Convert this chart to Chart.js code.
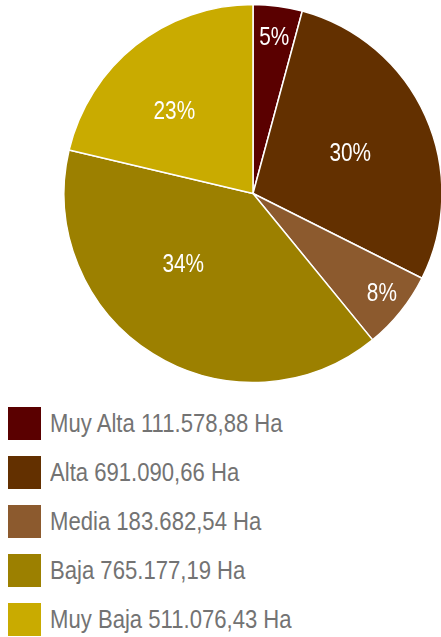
<!DOCTYPE html>
<html><head><meta charset="utf-8">
<script src="https://cdn.jsdelivr.net/npm/chart.js@4"></script>
<style>
html,body{margin:0;padding:0;background:#fff;overflow:hidden;width:441px;height:637px;position:relative;}
#wrap{position:absolute;left:-7px;top:0;width:520px;height:387px;}
#legend{position:absolute;left:0;top:407px;}
.row{height:33px;margin-bottom:16px;display:flex;align-items:center;}
.box{width:33px;height:33px;margin-left:8px;flex:none;}
.txt{margin-left:9px;font-family:'Liberation Sans',Arial,sans-serif;font-size:26px;line-height:33px;color:#737373;transform:scaleX(0.85);transform-origin:left center;white-space:nowrap;}
</style></head><body>
<div id="wrap"><canvas id="c"></canvas></div>
<div id="legend"></div>
<script>
const categories = ['Muy Alta', 'Alta', 'Media', 'Baja', 'Muy Baja'];
const hectares = [111578.88, 691090.66, 183682.54, 765177.19, 511076.43];
const unit = 'Ha';
// slice sizes as drawn in the picture (percent of the circle)
const sliceShares = [4.2, 28.2, 6.7, 39.6, 21.3];
// percentage labels printed on the slices
const pctText = [5, 30, 8, 34, 23];
const colors = ['#5a0000', '#633000', '#8c5a2e', '#9c8000', '#c9ab00'];

function fmt(v) {
  const parts = v.toFixed(2).split('.');
  const int = parts[0].replace(/\B(?=(\d{3})+(?!\d))/g, '.');
  return int + ',' + parts[1];
}

// HTML legend built from the arrays
const legendEl = document.getElementById('legend');
categories.forEach((c, i) => {
  const row = document.createElement('div');
  row.className = 'row';
  const box = document.createElement('div');
  box.className = 'box';
  box.style.background = colors[i];
  const txt = document.createElement('span');
  txt.className = 'txt';
  txt.textContent = c + ' ' + fmt(hectares[i]) + ' ' + unit;
  row.appendChild(box);
  row.appendChild(txt);
  legendEl.appendChild(row);
});

const pctLabels = {
  id: 'pctLabels',
  afterDatasetsDraw(chart, args, opts) {
    const ctx = chart.ctx;
    const meta = chart.getDatasetMeta(0);
    meta.data.forEach((arc, i) => {
      const p = arc.getProps(['x', 'y', 'startAngle', 'endAngle', 'outerRadius'], true);
      const mid = (p.startAngle + p.endAngle) / 2 + opts.shift[i] * Math.PI / 180;
      const r = p.outerRadius * opts.radial[i];
      const x = p.x + Math.cos(mid) * r;
      const y = p.y + Math.sin(mid) * r;
      ctx.save();
      ctx.translate(x, y);
      ctx.scale(opts.stretch, 1);
      ctx.fillStyle = '#ffffff';
      ctx.font = "26px 'Liberation Sans', Arial, sans-serif";
      ctx.textAlign = 'center';
      ctx.textBaseline = 'middle';
      ctx.fillText(pctText[i] + '%', 0, 1);
      ctx.restore();
    });
  }
};

new Chart(document.getElementById('c'), {
  type: 'pie',
  data: {
    labels: categories,
    datasets: [{
      data: sliceShares,
      backgroundColor: colors,
      borderColor: '#ffffff',
      borderWidth: 1.5,
      radius: 189
    }]
  },
  plugins: [pctLabels],
  options: {
    responsive: true,
    maintainAspectRatio: false,
    animation: false,
    layout: { padding: 0 },
    plugins: {
      tooltip: { enabled: false },
      legend: { display: false },
      pctLabels: {
        radial: [0.834, 0.557, 0.862, 0.524, 0.603],
        shift: [0.2, 1.6, -1.0, 12.7, -5.3],
        stretch: 0.8
      }
    }
  }
});
</script>
</body></html>
